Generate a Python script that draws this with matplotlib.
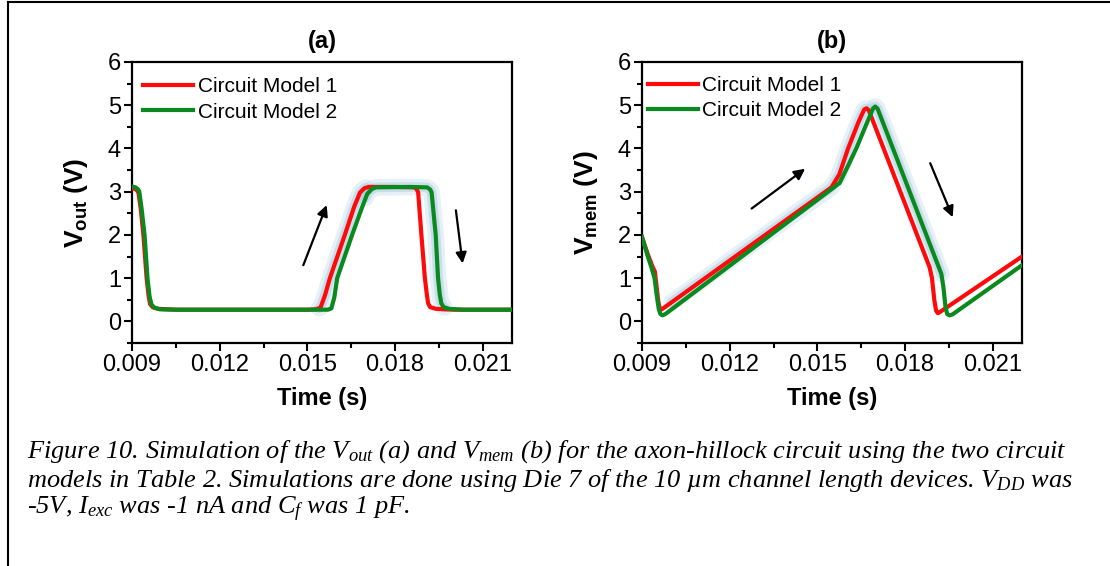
import numpy as np
import matplotlib
matplotlib.use('Agg')
import matplotlib.pyplot as plt
from matplotlib.lines import Line2D
from matplotlib.ticker import MultipleLocator

plt.rcParams['font.family'] = ['Liberation Sans', 'DejaVu Sans']
plt.rcParams['mathtext.fontset'] = 'custom'
plt.rcParams['mathtext.bf'] = 'Liberation Sans:bold'
plt.rcParams['mathtext.it'] = 'Liberation Serif:italic'
plt.rcParams['mathtext.rm'] = 'Liberation Serif:italic'

# ---- data ----
# (a) Vout
vout_t1 = [0.0090, 0.00912, 0.00918, 0.00922, 0.00930, 0.00939, 0.00950, 0.00957, 0.00962, 0.00970,
           0.00990, 0.0105, 0.0120, 0.0150, 0.01530, 0.01545, 0.01560, 0.01577, 0.01628, 0.01660,
           0.01680, 0.01695, 0.01710, 0.0180, 0.01865, 0.01874, 0.01879, 0.01890, 0.01902, 0.01909,
           0.01913, 0.01920, 0.01940, 0.0200, 0.0220]
vout_v1 = [3.08, 3.06, 3.02, 2.98, 2.60, 2.00, 1.00, 0.58, 0.40, 0.33,
           0.29, 0.27, 0.27, 0.27, 0.28, 0.32, 0.60, 1.00, 2.00, 2.65,
           2.98, 3.08, 3.11, 3.11, 3.10, 3.06, 2.98, 2.00, 1.00, 0.60,
           0.42, 0.33, 0.29, 0.27, 0.27]
vout_t2 = [0.0090, 0.00912, 0.00920, 0.00925, 0.00933, 0.00943, 0.00953, 0.00960, 0.00966, 0.00975,
           0.00995, 0.0105, 0.0120, 0.0152, 0.01570, 0.01582, 0.01592, 0.01602, 0.01653, 0.01685,
           0.01705, 0.01720, 0.01735, 0.0185, 0.01910, 0.01920, 0.01925, 0.01939, 0.01947, 0.01953,
           0.01958, 0.01966, 0.01985, 0.0203, 0.0220]
vout_v2 = [3.12, 3.10, 3.06, 3.00, 2.60, 2.00, 1.00, 0.58, 0.40, 0.32,
           0.28, 0.27, 0.27, 0.27, 0.27, 0.30, 0.55, 1.00, 2.00, 2.60,
           2.95, 3.06, 3.10, 3.11, 3.10, 3.05, 2.98, 2.00, 1.00, 0.62,
           0.42, 0.33, 0.29, 0.27, 0.27]

# (b) Vmem
vmem_t1 = [0.0090, 0.00920, 0.00935, 0.00944, 0.00950, 0.00956, 0.00962, 0.00968, 0.01548, 0.01575,
           0.01605, 0.01640, 0.01660, 0.01668, 0.01676, 0.01884, 0.01892, 0.01900, 0.01906, 0.01912,
           0.01920, 0.0220]
vmem_v1 = [1.95, 1.55, 1.28, 1.15, 0.80, 0.45, 0.27, 0.28, 3.10, 3.40,
           4.00, 4.60, 4.90, 4.93, 4.88, 1.25, 1.00, 0.50, 0.25, 0.19,
           0.22, 1.50]
vmem_t2 = [0.0090, 0.00920, 0.00932, 0.00943, 0.00950, 0.00957, 0.00963, 0.00970, 0.00980, 0.01576,
           0.01605, 0.01633, 0.01670, 0.01690, 0.01698, 0.01706, 0.01924, 0.01931, 0.01938, 0.01944,
           0.01952, 0.01962, 0.0220]
vmem_v2 = [1.95, 1.50, 1.25, 1.00, 0.62, 0.30, 0.17, 0.14, 0.17, 3.20,
           3.60, 4.00, 4.60, 4.92, 4.97, 4.92, 1.10, 0.80, 0.35, 0.17,
           0.14, 0.16, 1.30]

labels = ['Circuit Model 1', 'Circuit Model 2']
panel_titles = ['(a)', '(b)']
ylabels = [r'$\mathbf{V_{out}}$ (V)', r'$\mathbf{V_{mem}}$ (V)']
xticks = [0.009, 0.012, 0.015, 0.018, 0.021]

# arrows: (tail, head) in data coords
arrows_a = [((0.01486, 1.30), (0.01566, 2.69)), ((0.02008, 2.57), (0.02031, 1.34))]
arrows_b = [((0.01275, 2.61), (0.01458, 3.53)), ((0.01886, 3.66), (0.01963, 2.41))]

# glowing segments: (series index, t start, t end)
glow_a = [(0, 0.01540, 0.01700), (1, 0.01700, 0.01970)]
glow_b = [(0, 0.01000, 0.01672), (1, 0.01698, 0.01924)]

RED = '#ff0a0a'
GREEN = '#0a8a1e'
GLOW = '#9cc6dc'

fig = plt.figure(figsize=(11.1, 5.66), dpi=100)
axA = fig.add_axes([132/1110, 223/566, 380/1110, 281/566])
axB = fig.add_axes([642/1110, 223/566, 380/1110, 281/566])

panels = [
  (axA, [(vout_t1, vout_v1), (vout_t2, vout_v2)], arrows_a, glow_a, (0.008, 0.975)),
  (axB, [(vmem_t1, vmem_v1), (vmem_t2, vmem_v2)], arrows_b, glow_b, (-0.006, 0.98)),
]

for i, (ax, series, arrows, glows, leg_anchor) in enumerate(panels):
  # soft glow behind some parts of the curves
  for idx, t0, t1 in glows:
    t = np.array(series[idx][0]); v = np.array(series[idx][1])
    tt = np.linspace(t0, t1, 200)
    vv = np.interp(tt, t, v)
    ax.plot(tt, vv, color=GLOW, lw=12, alpha=0.25, solid_capstyle='round', zorder=1)
    ax.plot(tt, vv, color=GLOW, lw=7, alpha=0.4, solid_capstyle='round', zorder=1)

  for (t, v), c, lab in zip(series, [RED, GREEN], labels):
    ax.plot(t, v, color=c, lw=3, label=lab, zorder=3, solid_joinstyle='round')

  for tail, head in arrows:
    ax.annotate('', xy=head, xytext=tail,
                arrowprops=dict(arrowstyle='-|>', color='black', lw=1.6, mutation_scale=16,
                                shrinkA=0, shrinkB=0), zorder=4)

  ax.set_xlim(0.009, 0.022)
  ax.set_ylim(-0.5, 6)
  ax.set_xticks(xticks)
  ax.set_xticklabels(['%.3f' % x for x in xticks])
  ax.xaxis.set_minor_locator(MultipleLocator(0.0015))
  ax.yaxis.set_major_locator(MultipleLocator(1))
  ax.yaxis.set_minor_locator(MultipleLocator(0.5))
  ax.set_yticks(range(0, 7))
  ax.tick_params(which='both', direction='out', labelsize=17, width=1.5, top=False, right=False, pad=2)
  ax.tick_params(which='major', length=6)
  ax.tick_params(which='minor', length=3.5)
  for s in ax.spines.values():
    s.set_linewidth(1.6)

  ax.set_title(panel_titles[i], fontsize=17, fontweight='bold', pad=10)
  ax.set_xlabel('Time (s)', fontsize=17, fontweight='bold', labelpad=8)
  ax.set_ylabel(ylabels[i], fontsize=19, fontweight='bold', labelpad=13)

  ax.legend(loc='upper left', bbox_to_anchor=leg_anchor, frameon=False, fontsize=15,
            handlelength=2.4, handletextpad=0.2, labelspacing=0.3, borderaxespad=0)

# caption
cap_kw = dict(fontsize=19, family='Liberation Serif', style='italic', va='center', ha='left')
fig.text(27/1110, 1 - 452/566,
         r'Figure 10. Simulation of the $V_{out}$ (a) and $V_{mem}$ (b) for the axon-hillock circuit using the two circuit',
         **cap_kw)
fig.text(27/1110, 1 - 480/566,
         r'models in Table 2. Simulations are done using Die 7 of the 10 µm channel length devices. $V_{DD}$ was',
         **cap_kw)
fig.text(27/1110, 1 - 509/566, r'-5V, $I_{exc}$ was -1 nA and $C_f$ was 1 pF.', **cap_kw)

# page frame (left and top edges)
fig.add_artist(Line2D([8/1110, 8/1110], [0, 1 - 2/566], color='black', lw=1.5, transform=fig.transFigure))
fig.add_artist(Line2D([8/1110, 1], [1 - 2/566, 1 - 2/566], color='black', lw=1.5, transform=fig.transFigure))

fig.savefig('out.png', dpi=100)
